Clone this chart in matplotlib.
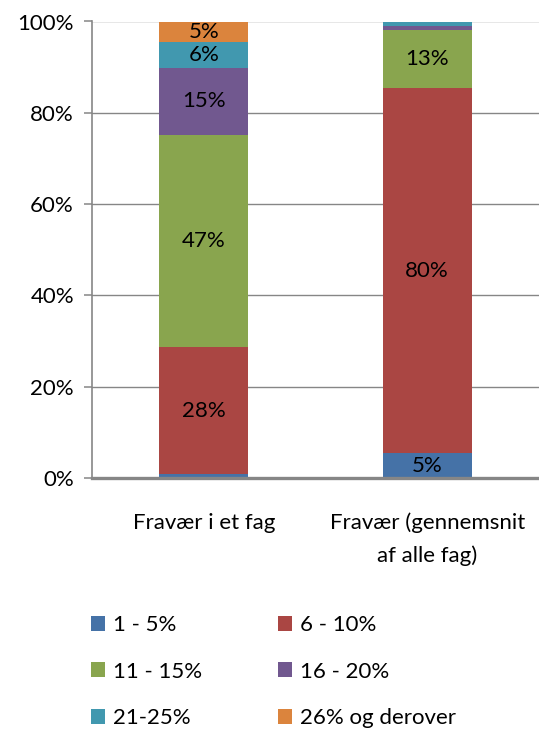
import matplotlib
matplotlib.use("Agg")
import matplotlib.pyplot as plt
import numpy as np

plt.rcParams['font.family'] = ['Lato', 'DejaVu Sans']

categories = ["Fravær i et fag", "Fravær (gennemsnit\naf alle fag)"]
series_names = ["1 - 5%", "6 - 10%", "11 - 15%", "16 - 20%", "21-25%", "26% og derover"]
s_1_5 = [0.8, 5.4]
s_6_10 = [27.8, 80.1]
s_11_15 = [46.6, 12.7]
s_16_20 = [14.6, 0.8]
s_21_25 = [5.6, 0.8]
s_26 = [4.6, 0.2]
series = [s_1_5, s_6_10, s_11_15, s_16_20, s_21_25, s_26]
colors = ["#4572A7", "#AA4643", "#89A54E", "#71588F", "#4198AF", "#DB843D"]
yticks = [0, 20, 40, 60, 80, 100]
ytick_labels = ["0%", "20%", "40%", "60%", "80%", "100%"]

W, H = 539, 731
fig = plt.figure(figsize=(W / 100, H / 100), dpi=100)
ax = fig.add_axes([92 / W, 1 - 478 / H, 1 - 92 / W, (478 - 21.5) / H])

x = np.arange(len(categories))
bottom = np.zeros(len(categories))
fs = 16
for name, vals, c in zip(series_names, series, colors):
    vals = np.array(vals, dtype=float)
    ax.bar(x, vals, 0.40, bottom=bottom, color=c, label=name, zorder=3,
           edgecolor='none')
    for xi, v, b in zip(x, vals, bottom):
        if v >= 3:
            ax.text(xi, b + v / 2, f"{v:.0f}%", ha='center', va='center',
                    fontsize=fs, color='black', zorder=4)
    bottom += vals

ax.set_xlim(-0.5, 1.5)
ax.set_ylim(0, 100)
ax.set_yticks(yticks)
ax.set_yticklabels(ytick_labels, fontsize=fs)
ax.set_xticks(x)
ax.set_xticklabels(categories, fontsize=fs, linespacing=1.7)
ax.tick_params(axis='x', length=0, pad=25)
ax.tick_params(axis='y', length=6, width=1.1, color='#868686', pad=7)
ax.yaxis.grid(True, color='#868686', linewidth=1.0, zorder=0)
ax.set_axisbelow(True)
for s in ['top', 'right']:
    ax.spines[s].set_visible(False)
ax.spines['left'].set_color('#868686')
ax.spines['left'].set_linewidth(1.2)
ax.spines['bottom'].set_color('#868686')
ax.spines['bottom'].set_linewidth(2.4)
ax.spines['bottom'].set_zorder(5)

handles, labels = ax.get_legend_handles_labels()
order = [0, 2, 4, 1, 3, 5]
leg = fig.legend([handles[i] for i in order], [labels[i] for i in order],
                 ncol=2, loc='upper left',
                 bbox_to_anchor=(82 / W, 1 - 606 / H), frameon=False,
                 fontsize=fs, handlelength=0.65, handleheight=0.65,
                 handletextpad=0.35, columnspacing=3.4, labelspacing=1.2,
                 borderaxespad=0)

fig.savefig("out.png", dpi=100)
